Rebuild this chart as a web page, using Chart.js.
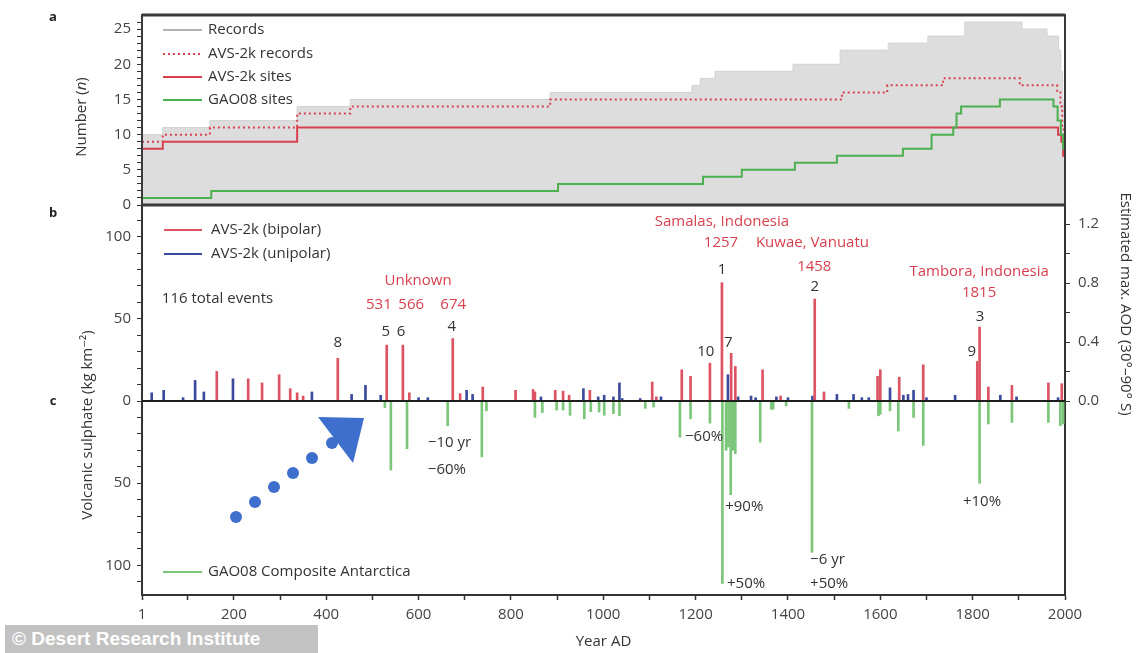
<!DOCTYPE html>
<html>
<head>
<meta charset="utf-8">
<script src="https://cdn.jsdelivr.net/npm/chart.js@4"></script>
<style>
  html, body { margin: 0; padding: 0; background: #fff; }
  #wrap { position: relative; width: 1139px; height: 653px; overflow: hidden; background: #fff; }
  #panelA { position: absolute; left: 0; top: 0; }
  #panelB { position: absolute; left: 0; top: 150px; }
  #arrow { position: absolute; left: 0; top: 0; pointer-events: none; }
  #credit {
    position: absolute; left: 5px; top: 625px; width: 313px; height: 28px;
    background: #c2c2c2; color: #fff; font: bold 19px "Liberation Sans", Arial, sans-serif;
    line-height: 28px; padding-left: 7px; box-sizing: border-box; white-space: nowrap;
  }
</style>
</head>
<body>
<div id="wrap">
  <canvas id="panelA" width="1139" height="220"></canvas>
  <canvas id="panelB" width="1139" height="503"></canvas>
  <svg id="arrow" width="1139" height="653">
    <g fill="#3f6fcc">
      <circle cx="236" cy="517" r="6"/>
      <circle cx="255" cy="502" r="6"/>
      <circle cx="274" cy="487" r="6"/>
      <circle cx="293" cy="473" r="6"/>
      <circle cx="312" cy="458" r="6"/>
      <circle cx="332" cy="443" r="6"/>
      <polygon points="318,417 364,418 353,463"/>
    </g>
  </svg>
  <div id="credit">© Desert Research Institute</div>
</div>
<script>
// ---- panel a: number of records / sites (step series) ----
const recordYears  = [1, 46, 148, 337, 452, 885, 1192, 1210, 1242, 1411, 1513, 1617, 1703, 1783, 1907, 1961, 1986, 1991, 1995, 1998, 2000];
const recordCounts = [10, 11, 12, 14, 15, 16, 17, 18, 19, 20, 22, 23, 24, 26, 25, 24, 22, 19, 15, 11, 8];

const avsRecordYears  = [1, 46, 148, 337, 452, 885, 1517, 1615, 1736, 1902, 1983, 1990, 1994, 1997, 2000];
const avsRecordCounts = [9, 10, 11, 13, 14, 15, 16, 17, 18, 17, 16, 14, 11, 8, 7];

const avsSiteYears  = [1, 46, 337, 1985, 1992, 1996, 2000];
const avsSiteCounts = [8, 9, 11, 10, 9, 7, 7];

const gaoSiteYears  = [1, 151, 902, 1216, 1300, 1415, 1506, 1649, 1711, 1758, 1765, 1775, 1859, 1975, 1984, 1991, 1996, 2000];
const gaoSiteCounts = [1, 2, 3, 4, 5, 6, 7, 8, 10, 11, 13, 14, 15, 14, 12, 10, 8, 7];

// ---- panels b/c: volcanic sulphate (kg km-2) ----
const bipolarYears  = [163, 231, 261, 298, 322, 337, 350, 425, 531, 566, 580, 674, 690, 739, 810, 848, 852, 896, 913, 926, 971, 1106, 1115, 1170, 1189, 1231, 1257, 1277, 1286, 1345, 1384, 1458, 1478, 1594, 1600, 1641, 1693, 1810, 1815, 1834, 1885, 1964, 1993];
const bipolarValues = [18, 13.5, 11, 16, 7.5, 5, 3, 26, 34, 34, 5, 38, 4.5, 8.5, 6.5, 7, 5.5, 6.5, 6, 3.5, 6.5, 11.5, 2.5, 19, 15, 23, 72, 29, 21, 19, 3, 62, 5.5, 15, 19, 14.5, 22, 24, 45, 8.5, 9.5, 11, 10.5];

const unipolarYears  = [22, 48, 90, 116, 135, 198, 369, 455, 485, 518, 600, 620, 704, 717, 865, 957, 989, 1002, 1022, 1035, 1041, 1080, 1125, 1270, 1292, 1320, 1330, 1375, 1400, 1453, 1506, 1542, 1560, 1575, 1621, 1650, 1660, 1672, 1700, 1762, 1860, 1895, 1985];
const unipolarValues = [5, 6.5, 2, 12.5, 5.5, 13.5, 5.5, 4, 9.5, 3.5, 2, 2, 6.5, 4, 2.5, 7.5, 2.5, 3.5, 2.5, 11, 1.5, 1.5, 2.5, 16, 2.5, 3, 2, 2.5, 2, 3, 4, 4, 2, 2, 8, 3.5, 4, 6.5, 2, 3.5, 3.5, 2.5, 2];

const gaoYears  = [527, 540, 575, 663, 737, 747, 852, 868, 899, 913, 928, 959, 973, 991, 1002, 1022, 1035, 1091, 1109, 1166, 1189, 1231, 1258, 1266, 1271, 1276, 1281, 1286, 1340, 1364, 1368, 1396, 1452, 1532, 1596, 1600, 1621, 1639, 1672, 1693, 1815, 1834, 1885, 1964, 1990, 1996];
const gaoValues = [-4, -42, -29, -15, -34, -6, -10, -7, -5.5, -5.5, -8.7, -10.8, -6.5, -6.7, -8.7, -7.7, -9, -4.5, -3.7, -22, -10.8, -13.5, -111, -30, -28, -57, -30, -32, -25, -5, -5, -3, -92, -4.5, -9, -8, -6, -18.3, -10, -27, -50, -14, -13, -13, -15, -14];

// ---- ticks ----
const yearTicks  = [1, 100, 200, 300, 400, 500, 600, 700, 800, 900, 1000, 1100, 1200, 1300, 1400, 1500, 1600, 1700, 1800, 1900, 2000];
const yearLabels = [1, 200, 400, 600, 800, 1000, 1200, 1400, 1600, 1800, 2000];
const numberTicks  = [0, 1, 2, 3, 4, 5, 6, 7, 8, 9, 10, 11, 12, 13, 14, 15, 16, 17, 18, 19, 20, 21, 22, 23, 24, 25, 26];
const numberLabels = [0, 5, 10, 15, 20, 25];
const sulphateTicks  = [-110, -100, -90, -80, -70, -60, -50, -40, -30, -20, -10, 0, 10, 20, 30, 40, 50, 60, 70, 80, 90, 100, 110];
const sulphateLabels = [-100, -50, 0, 50, 100];
const aodTicks  = [0, 0.2, 0.4, 0.6, 0.8, 1.0, 1.2];
const aodLabels = [0, 0.4, 0.8, 1.2];

const sulphateMin = -118, sulphateMax = 118;
const kgPerAod = 89.6;   // sulphate (kg km-2) per unit AOD on the right axis

// event annotations (placed in year / sulphate units)
const eventNotes = [
  { text: "Unknown", year: 599, value: 73, red: true },
  { text: "531", year: 514, value: 58.4, red: true },
  { text: "566", year: 584, value: 58.4, red: true },
  { text: "674", year: 675, value: 58.4, red: true },
  { text: "8", year: 425, value: 35.3 },
  { text: "5", year: 529, value: 42 },
  { text: "6", year: 562, value: 42 },
  { text: "4", year: 672, value: 45 },
  { text: "Samalas, Indonesia", year: 1257, value: 109, red: true },
  { text: "1257", year: 1255, value: 96, red: true },
  { text: "Kuwae, Vanuatu", year: 1453, value: 96, red: true },
  { text: "1458", year: 1457, value: 81.5, red: true },
  { text: "1", year: 1257, value: 80 },
  { text: "2", year: 1458, value: 69.3 },
  { text: "10", year: 1222, value: 30 },
  { text: "7", year: 1271, value: 35.3 },
  { text: "Tambora, Indonesia", year: 1814, value: 78.6, red: true },
  { text: "1815", year: 1814, value: 65.7, red: true },
  { text: "3", year: 1816, value: 51.3 },
  { text: "9", year: 1798, value: 30 },
  { text: "116 total events", year: 44, value: 62, left: true },
  { text: "\u221210 yr", year: 620, value: -25.5, left: true },
  { text: "\u221260%", year: 620, value: -42, left: true },
  { text: "\u221260%", year: 1177, value: -21.7, left: true },
  { text: "+90%", year: 1264, value: -64.3, left: true },
  { text: "+50%", year: 1268, value: -111, left: true },
  { text: "\u22126 yr", year: 1448, value: -96.7, left: true },
  { text: "+50%", year: 1448, value: -111, left: true },
  { text: "+10%", year: 1779, value: -61.3, left: true }
];

const FONT = '"Open Sans", "DejaVu Sans", sans-serif';
const RED = "#d8404f";
const BAR_RED = "#dc5363";
const BLUE = "#3b4a9c";
const GREEN = "#4caf50";
const BAR_GREEN = "#7cc67a";
const DARK = "#333";
const AXIS = "#333";

Chart.defaults.font.family = FONT;
Chart.defaults.animation = false;

function pts(xs, ys) {
  return xs.map((x, i) => ({ x: x, y: ys[i] }));
}

function txt(ctx, s, x, y, font, color, align) {
  ctx.save();
  ctx.font = font;
  ctx.fillStyle = color;
  ctx.textAlign = align || "center";
  ctx.textBaseline = "middle";
  ctx.fillText(s, x, y);
  ctx.restore();
}

function rotText(ctx, s, x, y, angle, font, color) {
  ctx.save();
  ctx.translate(x, y);
  ctx.rotate(angle);
  txt(ctx, s, 0, 0, font, color, "center");
  ctx.restore();
}

function legendLine(ctx, x1, x2, y, color, width, dash) {
  ctx.save();
  ctx.strokeStyle = color;
  ctx.lineWidth = width;
  ctx.setLineDash(dash || []);
  ctx.beginPath();
  ctx.moveTo(x1, y);
  ctx.lineTo(x2, y);
  ctx.stroke();
  ctx.restore();
}

const tickFont = { size: 15, family: FONT };

// ---------------- panel a ----------------
const panelAPlugin = {
  id: "panelA",
  afterDraw(chart) {
    const ctx = chart.ctx;
    const a = chart.chartArea;
    // frame (top and bottom edges heavier)
    ctx.save();
    ctx.strokeStyle = "#3a3a3a";
    ctx.lineWidth = 2;
    ctx.strokeRect(a.left, a.top, a.right - a.left, a.bottom - a.top);
    ctx.lineWidth = 3;
    ctx.beginPath();
    ctx.moveTo(a.left, a.top); ctx.lineTo(a.right, a.top);
    ctx.moveTo(a.left, a.bottom); ctx.lineTo(a.right, a.bottom);
    ctx.stroke();
    ctx.restore();

    // legend
    const lx1 = a.left + 21, lx2 = a.left + 60, tx = a.left + 66;
    const f = "15px " + FONT;
    legendLine(ctx, lx1, lx2, a.top + 15, "#9a9a9a", 1.5);
    txt(ctx, "Records", tx, a.top + 15, f, DARK, "left");
    legendLine(ctx, lx1, lx2, a.top + 39, RED, 2, [2, 3]);
    txt(ctx, "AVS-2k records", tx, a.top + 39, f, DARK, "left");
    legendLine(ctx, lx1, lx2, a.top + 62, RED, 2);
    txt(ctx, "AVS-2k sites", tx, a.top + 62, f, DARK, "left");
    legendLine(ctx, lx1, lx2, a.top + 85, GREEN, 2);
    txt(ctx, "GAO08 sites", tx, a.top + 85, f, DARK, "left");

    // panel letter
    txt(ctx, "a", a.left - 89, a.top + 2, "bold 13px " + FONT, "#222", "center");

    // axis title "Number (n)" with italic n
    ctx.save();
    ctx.translate(a.left - 60, (a.top + a.bottom) / 2 + 7);
    ctx.rotate(-Math.PI / 2);
    ctx.textBaseline = "middle";
    ctx.fillStyle = DARK;
    const parts = [["Number (", "15px " + FONT], ["n", "italic 15px " + FONT], [")", "15px " + FONT]];
    let w = 0;
    parts.forEach(p => { ctx.font = p[1]; w += ctx.measureText(p[0]).width; });
    let px = -w / 2;
    ctx.textAlign = "left";
    parts.forEach(p => { ctx.font = p[1]; ctx.fillText(p[0], px, 0); px += ctx.measureText(p[0]).width; });
    ctx.restore();
  }
};

// stepped "before": each value holds from its year until the next listed year
new Chart(document.getElementById("panelA"), {
  type: "line",
  data: {
    datasets: [
      { label: "GAO08 sites", data: pts(gaoSiteYears, gaoSiteCounts), borderColor: GREEN, borderWidth: 2, pointRadius: 0, stepped: "before", fill: false, order: 0 },
      { label: "AVS-2k sites", data: pts(avsSiteYears, avsSiteCounts), borderColor: RED, borderWidth: 2, pointRadius: 0, stepped: "before", fill: false, order: 1 },
      { label: "AVS-2k records", data: pts(avsRecordYears, avsRecordCounts), borderColor: RED, borderWidth: 2, borderDash: [2, 3], pointRadius: 0, stepped: "before", fill: false, order: 2 },
      { label: "Records", data: pts(recordYears, recordCounts), borderColor: "#d2d2d2", backgroundColor: "#dddddd", borderWidth: 1, pointRadius: 0, stepped: "before", fill: "origin", order: 3 }
    ]
  },
  options: {
    responsive: false,
    layout: { padding: { top: 13, right: 74, bottom: 13, left: 0 } },
    plugins: { legend: { display: false }, tooltip: { enabled: false } },
    scales: {
      x: { type: "linear", min: 1, max: 2000, display: false },
      y: {
        min: 0, max: 27,
        afterBuildTicks: s => { s.ticks = numberTicks.map(v => ({ value: v })); },
        afterFit: s => { s.width = 142; },
        ticks: {
          autoSkip: false, padding: 6, color: "#444", font: tickFont,
          callback: v => numberLabels.includes(v) ? String(v) : ""
        },
        grid: { drawOnChartArea: false, tickLength: 5, tickColor: AXIS, tickWidth: 1 },
        border: { color: AXIS, width: 2 }
      }
    }
  },
  plugins: [panelAPlugin]
});

// ---------------- panels b / c ----------------
const panelBPlugin = {
  id: "panelB",
  afterDatasetsDraw(chart) {
    const ctx = chart.ctx;
    const a = chart.chartArea;
    const y0 = chart.scales.y.getPixelForValue(0);
    ctx.save();
    ctx.strokeStyle = "#1e1e1e";
    ctx.lineWidth = 2;
    ctx.beginPath();
    ctx.moveTo(a.left, y0);
    ctx.lineTo(a.right, y0);
    ctx.stroke();
    ctx.restore();
  },
  afterDraw(chart) {
    const ctx = chart.ctx;
    const a = chart.chartArea;
    const xs = chart.scales.x, ys = chart.scales.y;
    const y0 = ys.getPixelForValue(0);
    const f = "15px " + FONT;

    // event annotations
    eventNotes.forEach(n => {
      txt(ctx, n.text, xs.getPixelForValue(n.year), ys.getPixelForValue(n.value), f,
        n.red ? RED : DARK, n.left ? "left" : "center");
    });

    // legends
    const lx1 = a.left + 22, lx2 = a.left + 60;
    legendLine(ctx, lx1, lx2, a.top + 23, BAR_RED, 2);
    txt(ctx, "AVS-2k (bipolar)", a.left + 69, a.top + 23, f, DARK, "left");
    legendLine(ctx, lx1, lx2, a.top + 47, BLUE, 2);
    txt(ctx, "AVS-2k (unipolar)", a.left + 69, a.top + 47, f, DARK, "left");
    legendLine(ctx, a.left + 21, lx2, a.bottom - 23, BAR_GREEN, 2);
    txt(ctx, "GAO08 Composite Antarctica", a.left + 66, a.bottom - 23, f, DARK, "left");

    // panel letters
    txt(ctx, "b", a.left - 89, a.top + 6, "bold 13px " + FONT, "#222", "center");
    txt(ctx, "c", a.left - 89, y0, "bold 13px " + FONT, "#222", "center");

    // axis titles
    rotText(ctx, "Volcanic sulphate (kg km\u207B\u00B2)", a.left - 54, (a.top + a.bottom) / 2 + 24, -Math.PI / 2, "15px " + FONT, DARK);
    rotText(ctx, "Estimated max. AOD (30\u00B0\u201390\u00B0 S)", a.right + 60, (a.top + y0) / 2, Math.PI / 2, "15px " + FONT, DARK);
    txt(ctx, "Year AD", (a.left + a.right) / 2, a.bottom + 47, "15px " + FONT, DARK, "center");
  }
};

const barOpts = { barThickness: 2, grouped: false, borderWidth: 0 };

new Chart(document.getElementById("panelB"), {
  type: "bar",
  data: {
    datasets: [
      Object.assign({ label: "AVS-2k (bipolar)", data: pts(bipolarYears, bipolarValues), backgroundColor: BAR_RED }, barOpts),
      Object.assign({ label: "AVS-2k (unipolar)", data: pts(unipolarYears, unipolarValues), backgroundColor: BLUE }, barOpts),
      Object.assign({ label: "GAO08 Composite Antarctica", data: pts(gaoYears, gaoValues), backgroundColor: BAR_GREEN }, barOpts)
    ]
  },
  options: {
    responsive: false,
    layout: { padding: { top: 57, right: 0, bottom: 0, left: 0 } },
    plugins: { legend: { display: false }, tooltip: { enabled: false } },
    scales: {
      x: {
        type: "linear", min: 1, max: 2000, offset: false,
        afterBuildTicks: s => { s.ticks = yearTicks.map(v => ({ value: v })); },
        afterFit: s => { s.height = 58; },
        ticks: {
          autoSkip: false, maxRotation: 0, padding: 6, color: "#444", font: tickFont,
          callback: v => yearLabels.includes(v) ? String(v) : ""
        },
        grid: { drawOnChartArea: false, offset: false, tickLength: 5, tickColor: AXIS, tickWidth: 1.5 },
        border: { color: AXIS, width: 2 }
      },
      y: {
        position: "left", min: sulphateMin, max: sulphateMax,
        afterBuildTicks: s => { s.ticks = sulphateTicks.map(v => ({ value: v })); },
        afterFit: s => { s.width = 142; },
        ticks: {
          autoSkip: false, padding: 6, color: "#444", font: tickFont,
          callback: v => sulphateLabels.includes(v) ? String(Math.abs(v)) : ""
        },
        grid: { drawOnChartArea: false, tickLength: 5, tickColor: AXIS, tickWidth: 1 },
        border: { color: AXIS, width: 2 }
      },
      aod: {
        position: "right", min: sulphateMin / kgPerAod, max: sulphateMax / kgPerAod,
        afterBuildTicks: s => { s.ticks = aodTicks.map(v => ({ value: v })); },
        afterFit: s => { s.width = 74; },
        ticks: {
          autoSkip: false, padding: 8, color: "#444", font: tickFont,
          callback: v => aodLabels.includes(v) ? v.toFixed(1) : ""
        },
        grid: { drawOnChartArea: false, tickLength: 5, tickColor: AXIS, tickWidth: 1 },
        border: { color: AXIS, width: 2 }
      }
    }
  },
  plugins: [panelBPlugin]
});
</script>
</body>
</html>
